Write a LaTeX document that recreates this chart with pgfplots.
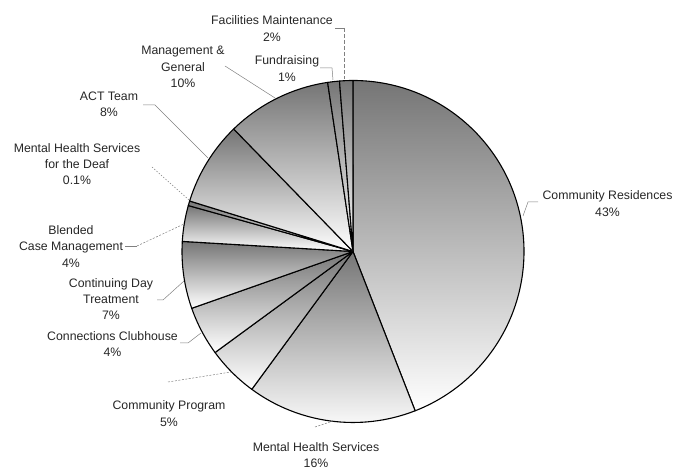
\documentclass[border=0pt]{standalone}
\usepackage{pgfplots}
\pgfplotsset{compat=1.18}
\usepackage{pgfplotstable}
\usepackage{fontspec}
\setmainfont{Liberation Sans}
\tikzset{lbl/.style={align=center, font=\fontsize{12.3}{16.3}\selectfont, text=black!85, inner sep=0pt},
  ldr/.style={draw=black!50, line width=0.5pt}}
% share of the circle (percent) of each slice, clockwise from 12 o'clock
\pgfplotstableread{
share
44.08
16.00
4.86
4.67
6.33
3.39
0.44
7.94
9.92
1.11
1.25
}\pietable
\begin{document}
\begin{tikzpicture}
\begin{axis}[scale only axis, width=686pt, height=470pt,
  xmin=0, xmax=686, ymin=0, ymax=470, hide axis, clip=false]
\path (axis cs:0,0) rectangle (axis cs:686,470);
\pgfplotstablegetrowsof{\pietable}
\pgfmathtruncatemacro\N{\pgfplotsretval-1}
\xdef\cumangle{90}
\pgfplotsforeachungrouped \i in {0,...,\N}{%
  \pgfplotstablegetelem{\i}{share}\of\pietable
  \pgfmathsetmacro\endA{\cumangle-3.6*\pgfplotsretval}%
  \edef\doslice{\noexpand\path[draw=black, line width=1.1pt, line join=round, top color=black!54, bottom color=white] (axis cs:353,218.5) -- ++(\cumangle:171pt) arc[start angle=\cumangle, end angle=\endA, radius=171pt] -- cycle;}%
  \doslice
  \xdef\cumangle{\endA}%
}
% leader lines
\draw[ldr] (axis cs:335,442) -- (axis cs:344,442);
\draw[ldr, dash pattern=on 4pt off 2pt] (axis cs:344,442) -- (axis cs:344,391);
\draw[ldr] (axis cs:320,402) -- (axis cs:332,402) -- (axis cs:333,390);
\draw[ldr] (axis cs:225,404) -- (axis cs:275,372);
\draw[ldr] (axis cs:143,365) -- (axis cs:155,365) -- (axis cs:208,312);
\draw[ldr, dash pattern=on 1.5pt off 1.5pt] (axis cs:152,303) -- (axis cs:189,270);
\draw[ldr] (axis cs:125,224) -- (axis cs:137,224);
\draw[ldr, dash pattern=on 2pt off 1.5pt] (axis cs:137,224) -- (axis cs:184,246);
\draw[ldr] (axis cs:157,170) -- (axis cs:163,170) -- (axis cs:184,189);
\draw[ldr] (axis cs:180,127) -- (axis cs:188,127) -- (axis cs:201,137);
\draw[ldr, dash pattern=on 2pt off 1.5pt] (axis cs:168,88) -- (axis cs:231,98);
\draw[ldr, dash pattern=on 2pt off 1.5pt] (axis cs:315,43) -- (axis cs:333,49);
\draw[ldr] (axis cs:538,268) -- (axis cs:528,268) -- (axis cs:523,254);
% labels
\node[lbl] at (axis cs:272,441.5) {Facilities Maintenance\\2\%};
\node[lbl] at (axis cs:287,401.5) {Fundraising\\1\%};
\node[lbl] at (axis cs:183,403) {Management \&\\General\\10\%};
\node[lbl] at (axis cs:109,365.5) {ACT Team\\8\%};
\node[lbl] at (axis cs:77,306) {Mental Health Services\\for the Deaf\\0.1\%};
\node[lbl] at (axis cs:71,223.5) {Blended\\Case Management\\4\%};
\node[lbl] at (axis cs:111,171) {Continuing Day\\Treatment\\7\%};
\node[lbl] at (axis cs:112.5,126) {Connections Clubhouse\\4\%};
\node[lbl] at (axis cs:169,56.5) {Community Program\\5\%};
\node[lbl] at (axis cs:316,15) {Mental Health Services\\16\%};
\node[lbl] at (axis cs:607.5,266.5) {Community Residences\\43\%};
\end{axis}
\end{tikzpicture}
\end{document}
